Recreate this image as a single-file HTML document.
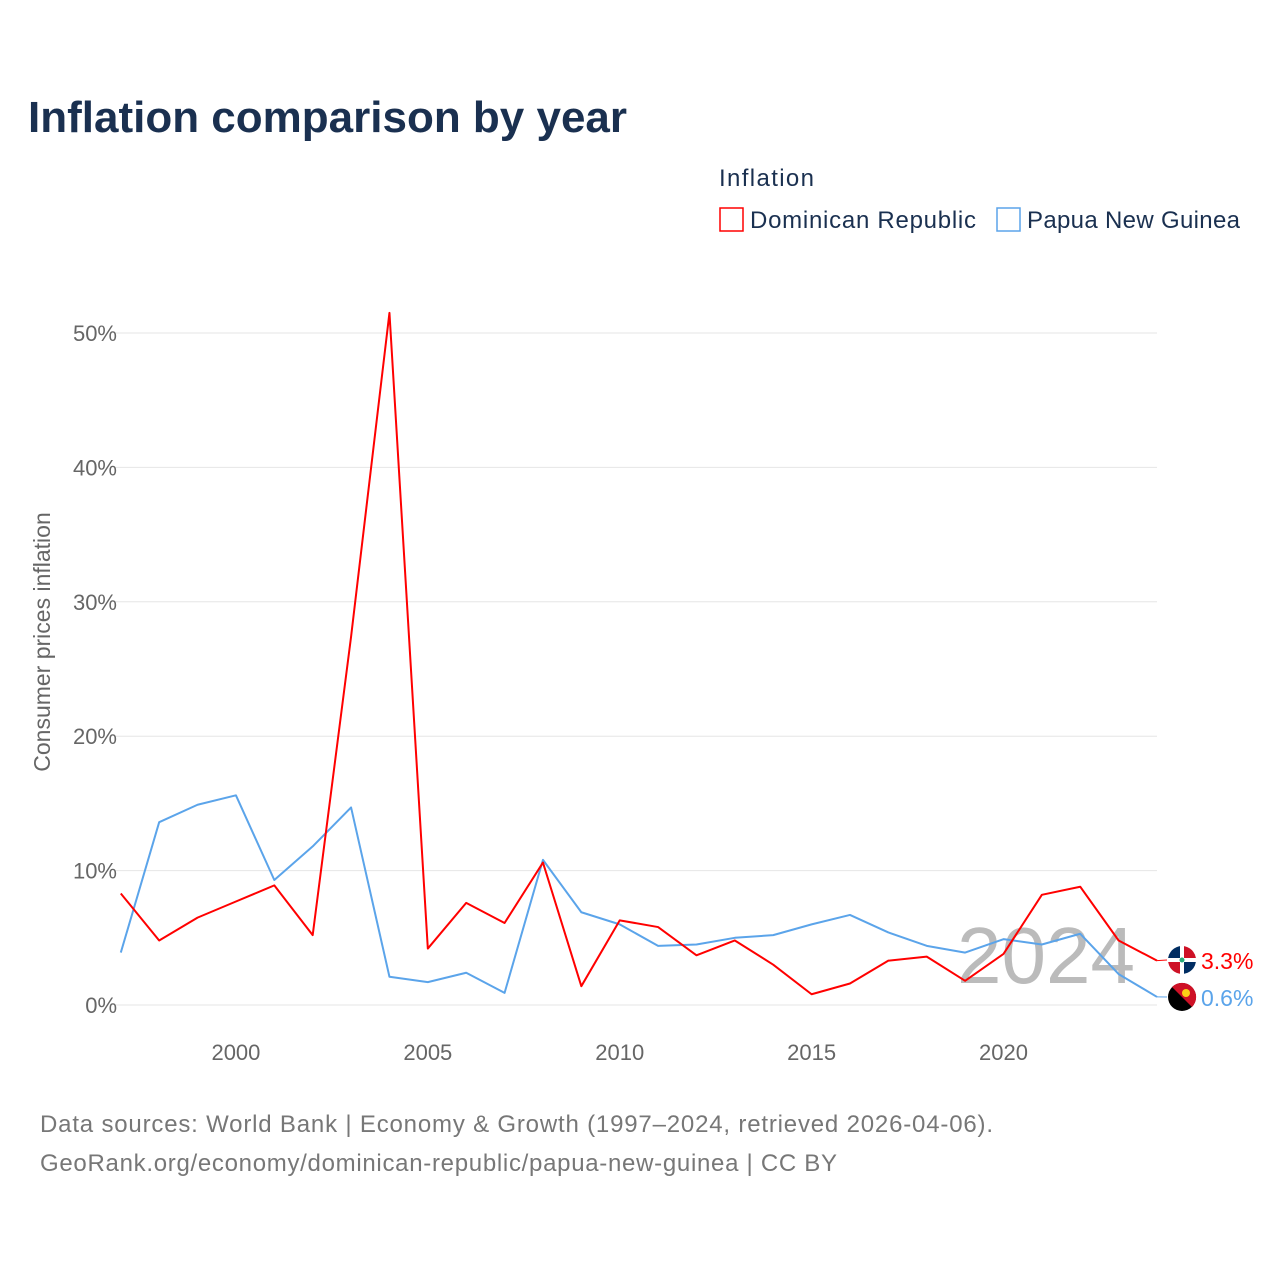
<!DOCTYPE html>
<html><head><meta charset="utf-8">
<style>
body{margin:0;background:#fff;font-family:"Liberation Sans",sans-serif;}
svg text{font-family:"Liberation Sans",sans-serif;}
</style></head>
<body>
<svg width="1280" height="1280" viewBox="0 0 1280 1280" xmlns="http://www.w3.org/2000/svg">
<defs><clipPath id="flagclip"><circle cx="1182" cy="960" r="14"/></clipPath></defs>
<text x="28" y="132" font-size="44" font-weight="bold" fill="#1a3050">Inflation comparison by year</text>
<text x="719" y="186" font-size="24" fill="#1a3050" textLength="95">Inflation</text>
<g>
<rect x="720" y="208" width="23" height="23" fill="none" stroke="#ff0000" stroke-width="1.5"/>
<text x="750" y="228" font-size="24" fill="#1a3050" textLength="226">Dominican Republic</text></g>
<g>
<rect x="997" y="208" width="23" height="23" fill="none" stroke="#5ba4ea" stroke-width="1.5"/>
<text x="1027" y="228" font-size="24" fill="#1a3050" textLength="213">Papua New Guinea</text></g>
<text transform="translate(50,642) rotate(-90)" text-anchor="middle" font-size="23" fill="#666">Consumer prices inflation</text>
<g id="grid"></g>
<text x="1135" y="983" text-anchor="end" font-size="80" fill="#bbb">2024</text>
<g id="lines"></g>
<text x="40" y="1132" font-size="24" fill="#777" textLength="953">Data sources: World Bank | Economy &amp; Growth (1997–2024, retrieved 2026-04-06).</text>
<text x="40" y="1171" font-size="24" fill="#777" textLength="797">GeoRank.org/economy/dominican-republic/papua-new-guinea | CC BY</text>
</svg>
<script>
const years=[1997,1998,1999,2000,2001,2002,2003,2004,2005,2006,2007,2008,2009,2010,2011,2012,2013,2014,2015,2016,2017,2018,2019,2020,2021,2022,2023,2024];
const drValues=[8.3,4.8,6.5,7.7,8.9,5.2,27.4,51.5,4.2,7.6,6.1,10.6,1.4,6.3,5.8,3.7,4.8,3.0,0.8,1.6,3.3,3.6,1.8,3.8,8.2,8.8,4.8,3.3];
const pngValues=[3.9,13.6,14.9,15.6,9.3,11.8,14.7,2.1,1.7,2.4,0.9,10.8,6.9,6.0,4.4,4.5,5.0,5.2,6.0,6.7,5.4,4.4,3.9,4.9,4.5,5.3,2.3,0.6];
const yTicks=[0,10,20,30,40,50];
const xTicks=[2000,2005,2010,2015,2020];
const NS="http://www.w3.org/2000/svg";
const xs=y=>120.8+(y-1997)*(1157-120.8)/27;
const ys=v=>1005-v*13.44;
function mk(tag,attrs,parent){const e=document.createElementNS(NS,tag);for(const k in attrs)e.setAttribute(k,attrs[k]);parent.appendChild(e);return e;}
const grid=document.getElementById('grid'),lines=document.getElementById('lines');
yTicks.forEach(t=>{
 const l=mk('line',{x1:115,x2:1157,y1:ys(t),y2:ys(t),stroke:'#e6e6e6','stroke-width':1},grid);
 
 
 const tx=mk('text',{x:117,y:ys(t)+8,'text-anchor':'end','font-size':22,fill:'#666'},grid);
 tx.textContent=t+'%';
 
 
});
xTicks.forEach(t=>{
 const tx=mk('text',{x:xs(t),y:1060,'text-anchor':'middle','font-size':22,fill:'#666'},grid);
 tx.textContent=t;
 
 
});
function series(vals,color,name){
 const p=mk('polyline',{points:vals.map((v,i)=>xs(years[i])+','+ys(v)).join(' '),fill:'none',stroke:color,'stroke-width':2,'stroke-linejoin':'round'},lines);
 
 
}
series(pngValues,'#5ba4ea','papua-new-guinea-line');
series(drValues,'#ff0000','dominican-republic-line');
function endLabel(v,color,name,label,flagY){
 const x=xs(2024);
 const l=mk('line',{x1:x,x2:1167,y1:ys(v),y2:flagY,stroke:color,'stroke-width':1},lines);
 
 
 const g=mk('g',{},lines);
 
 
 if(name==='dominican-republic'){
  g.setAttribute('clip-path','url(#flagclip)');
  mk('rect',{x:1166,y:flagY-16,width:32,height:32,fill:'#fff'},g);
  mk('rect',{x:1166,y:flagY-16,width:14,height:14,fill:'#002d62'},g);
  mk('rect',{x:1184,y:flagY-16,width:14,height:14,fill:'#ce1126'},g);
  mk('rect',{x:1166,y:flagY+2,width:14,height:14,fill:'#ce1126'},g);
  mk('rect',{x:1184,y:flagY+2,width:14,height:14,fill:'#002d62'},g);
  mk('circle',{cx:1182,cy:flagY,r:2.5,fill:'#2a7'},g);
 }else{
  mk('circle',{cx:1182,cy:flagY,r:14,fill:'#000'},g);
  mk('path',{d:`M1172,${flagY-10} A14,14 0 0 1 1192,${flagY+10} Z`,fill:'#ce1126'},g);
  mk('circle',{cx:1186,cy:flagY-4,r:4,fill:'#fcd116'},g);
 }
 const t=mk('text',{x:1201,y:flagY+9,'font-size':23,fill:color},lines);
 t.textContent=label;
 
 
}
endLabel(drValues[drValues.length-1],'#ff0000','dominican-republic',drValues[drValues.length-1].toFixed(1)+'%',960);
endLabel(pngValues[pngValues.length-1],'#5ba4ea','papua-new-guinea',pngValues[pngValues.length-1].toFixed(1)+'%',997);
</script>
</body></html>
